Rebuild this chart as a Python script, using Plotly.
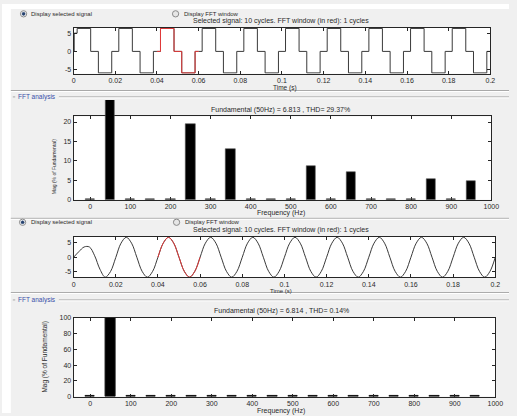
import plotly.graph_objects as go

W, H = 517, 416

# ---------------- data ----------------
time_ticks = [0, 0.02, 0.04, 0.06, 0.08, 0.1, 0.12, 0.14, 0.16, 0.18, 0.2]
time_tick_labels = ["0", "0.02", "0.04", "0.06", "0.08", "0.1", "0.12", "0.14", "0.16", "0.18", "0.2"]
freq_ticks = [0, 100, 200, 300, 400, 500, 600, 700, 800, 900, 1000]
freq_tick_labels = ["0", "100", "200", "300", "400", "500", "600", "700", "800", "900", "1000"]
sig_ticks = [-5, 0, 5]
sig_tick_labels = ["-5", "0", "5"]
mag1_ticks = [0, 5, 10, 15, 20]
mag1_tick_labels = ["0", "5", "10", "15", "20"]
mag2_ticks = [0, 20, 40, 60, 80, 100]
mag2_tick_labels = ["0", "20", "40", "60", "80", "100"]

# stepped (quasi-square) signal: level-change instants and levels
sq_time = [0.0, 0.0003, 0.0017, 0.0082, 0.0119, 0.0183,
           0.0217, 0.0282, 0.0319, 0.0383, 0.04,
           0.0417, 0.0482, 0.0519, 0.0583, 0.06,
           0.0617, 0.0682, 0.0719, 0.0783,
           0.0817, 0.0882, 0.0919, 0.0983,
           0.1017, 0.1082, 0.1119, 0.1183,
           0.1217, 0.1282, 0.1319, 0.1383,
           0.1417, 0.1482, 0.1519, 0.1583,
           0.1617, 0.1682, 0.1719, 0.1783,
           0.1817, 0.1882, 0.1919, 0.1983, 0.2]
sq_level = [0.0, 5.0, 6.3, 0.0, -5.9, 0.0,
            6.3, 0.0, -5.9, 0.0, 0.0,
            6.3, 0.0, -5.9, 0.0, 0.0,
            6.3, 0.0, -5.9, 0.0,
            6.3, 0.0, -5.9, 0.0,
            6.3, 0.0, -5.9, 0.0,
            6.3, 0.0, -5.9, 0.0,
            6.3, 0.0, -5.9, 0.0,
            6.3, 0.0, -5.9, 0.0,
            6.3, 0.0, -5.9, 0.0, 0.0]

# sinusoidal signal samples
sine_time = [0.0, 0.0025, 0.005, 0.0075, 0.01, 0.0125, 0.015, 0.0175,
             0.02, 0.0225, 0.025, 0.0275, 0.03, 0.0325, 0.035, 0.0375,
             0.04, 0.0425, 0.045, 0.0475, 0.05, 0.0525, 0.055, 0.0575,
             0.06, 0.0625, 0.065, 0.0675, 0.07, 0.0725, 0.075, 0.0775,
             0.08, 0.0825, 0.085, 0.0875, 0.09, 0.0925, 0.095, 0.0975,
             0.1, 0.1025, 0.105, 0.1075, 0.11, 0.1125, 0.115, 0.1175,
             0.12, 0.1225, 0.125, 0.1275, 0.13, 0.1325, 0.135, 0.1375,
             0.14, 0.1425, 0.145, 0.1475, 0.15, 0.1525, 0.155, 0.1575,
             0.16, 0.1625, 0.165, 0.1675, 0.17, 0.1725, 0.175, 0.1775,
             0.18, 0.1825, 0.185, 0.1875, 0.19, 0.1925, 0.195, 0.1975,
             0.2]
sine_value = [0.0, 1.9, 3.5, 3.5, 0.5, -4.1, -6.8, -4.9,
              -0.1, 4.8, 6.8, 4.8, 0.0, -4.8, -6.8, -4.8,
              0.0, 4.8, 6.8, 4.8, 0.0, -4.8, -6.8, -4.8,
              0.0, 4.8, 6.8, 4.8, 0.0, -4.8, -6.8, -4.8,
              0.0, 4.8, 6.8, 4.8, 0.0, -4.8, -6.8, -4.8,
              0.0, 4.8, 6.8, 4.8, 0.0, -4.8, -6.8, -4.8,
              0.0, 4.8, 6.8, 4.8, 0.0, -4.8, -6.8, -4.8,
              0.0, 4.8, 6.8, 4.8, 0.0, -4.8, -6.8, -4.8,
              0.0, 4.8, 6.8, 4.8, 0.0, -4.8, -6.8, -4.8,
              0.0, 4.8, 6.8, 4.8, 0.0, -4.8, -6.8, -4.8,
              0.0]

fft_window = [0.04, 0.06]

harm_freq = [0, 50, 100, 150, 200, 250, 300, 350, 400, 450,
             500, 550, 600, 650, 700, 750, 800, 850, 900, 950]
harm_mag_square = [0.1, 100, 0.1, 0.05, 0.1, 19.5, 0.1, 13.1, 0.05, 0.05,
                   0.05, 8.5, 0.05, 7.0, 0.05, 0.05, 0.05, 5.3, 0.05, 4.7]
harm_mag_sine = [0.6, 100, 0.6, 0.6, 0.6, 0.6, 0.6, 0.6, 0.6, 0.6,
                 0.6, 0.6, 0.6, 0.6, 0.6, 0.6, 0.6, 0.6, 0.6, 0.6]

title_sig = "Selected signal: 10 cycles. FFT window (in red): 1 cycles"
title_fft1 = "Fundamental (50Hz) = 6.813 , THD= 29.37%"
title_fft2 = "Fundamental (50Hz) = 6.814 , THD= 0.14%"

# ---------------- helpers ----------------
def px(x):
    return x / W


def py(y):
    return 1 - y / H


FONT = "Liberation Sans, Arial, sans-serif"
TXT = "#2a2a2a"
BG = "#f0f0f0"

sq_red_t = [t for t in sq_time if fft_window[0] <= t <= fft_window[1]]
sq_red_v = [v for t, v in zip(sq_time, sq_level) if fft_window[0] <= t <= fft_window[1]]
sn_red_t = [t for t in sine_time if fft_window[0] <= t <= fft_window[1]]
sn_red_v = [v for t, v in zip(sine_time, sine_value) if fft_window[0] <= t <= fft_window[1]]

fig = go.Figure()

bar_style = dict(color="black", line=dict(color="#111", width=1))
bar_style_thin = dict(color="black", line=dict(color="#555", width=0.6))

# panel 1 : stepped signal
fig.add_trace(go.Scatter(x=sq_time, y=sq_level, mode="lines", line=dict(color="#3a3a3a", width=1, shape="hv"),
                         xaxis="x", yaxis="y"))
fig.add_trace(go.Scatter(x=sq_red_t, y=sq_red_v, mode="lines", line=dict(color="#e23a3a", width=1, shape="hv"),
                         xaxis="x", yaxis="y"))
# panel 2 : FFT of stepped signal, drawn on a taller invisible subplot so the fundamental
# overflows the axes box like in the MATLAB window; the box itself is axes x2/y2
fig.add_trace(go.Scatter(x=[harm_freq[0]], y=[0], mode="markers", marker=dict(opacity=0),
                         xaxis="x2", yaxis="y2"))
fig.add_trace(go.Bar(x=harm_freq, y=harm_mag_square, width=23, marker=bar_style_thin, xaxis="x5", yaxis="y5"))
# panel 3 : sine
fig.add_trace(go.Scatter(x=sine_time, y=sine_value, mode="lines", line=dict(color="#3a3a3a", width=1, shape="spline"),
                         xaxis="x3", yaxis="y3"))
fig.add_trace(go.Scatter(x=sn_red_t, y=sn_red_v, mode="lines", line=dict(color="#e23a3a", width=1, shape="spline"),
                         xaxis="x3", yaxis="y3"))
# panel 4 : FFT of sine
fig.add_trace(go.Bar(x=harm_freq, y=harm_mag_sine, width=23, marker=bar_style, xaxis="x4", yaxis="y4"))


def axis(domain, rng, tv, tt, anchor):
    return dict(domain=domain, range=rng, tickvals=tv, ticktext=tt, anchor=anchor,
                showline=True, linecolor="#262626", linewidth=1, mirror="ticks",
                ticks="inside", ticklen=3, tickcolor="#262626", tickwidth=1,
                showgrid=False, zeroline=False, fixedrange=True,
                tickfont=dict(family=FONT, size=7, color=TXT))


P1 = dict(l=73, r=498, t=24.3, b=71)
P2 = dict(l=73, r=499, t=114.3, b=199)
P3 = dict(l=73, r=503, t=237, b=278)
P4 = dict(l=73, r=503, t=319.3, b=399.3)

layout = dict(
    width=W, height=H, margin=dict(l=0, r=0, t=0, b=0),
    paper_bgcolor=BG, plot_bgcolor="rgba(0,0,0,0)",
    showlegend=False, hovermode=False, bargap=0,
    xaxis=axis([px(P1["l"]), px(P1["r"])], [0, 0.2], time_ticks, time_tick_labels, "y"),
    yaxis=axis([py(P1["b"]), py(P1["t"])], [-6.15, 6.45], sig_ticks, sig_tick_labels, "x"),
    xaxis2=axis([px(P2["l"]), px(P2["r"])], [-41.6, 1000], freq_ticks, freq_tick_labels, "y2"),
    yaxis2=axis([py(P2["b"]), py(P2["t"])], [0, 21.45], mag1_ticks, mag1_tick_labels, "x2"),
    xaxis3=axis([px(P3["l"]), px(P3["r"])], [0, 0.2], time_ticks, time_tick_labels, "y3"),
    yaxis3=axis([py(P3["b"]), py(P3["t"])], [-6.85, 6.9], sig_ticks, sig_tick_labels, "x3"),
    xaxis4=axis([px(P4["l"]), px(P4["r"])], [-41.2, 1000], freq_ticks, freq_tick_labels, "y4"),
    yaxis4=axis([py(P4["b"]), py(P4["t"])], [0, 100], mag2_ticks, mag2_tick_labels, "x4"),
    xaxis5=dict(domain=[px(P2["l"]), px(P2["r"])], range=[-41.6, 1000], visible=False, anchor="y5", fixedrange=True),
    yaxis5=dict(domain=[py(199), py(97.7)], range=[0, 25.55], visible=False, anchor="x5", fixedrange=True),
)

shapes = []
# white borders of the screenshot
shapes.append(dict(type="rect", xref="paper", yref="paper", x0=0, x1=px(9), y0=0, y1=1,
                   fillcolor="white", line=dict(width=0), layer="below"))
shapes.append(dict(type="rect", xref="paper", yref="paper", x0=0, x1=1, y0=py(5), y1=1,
                   fillcolor="white", line=dict(width=0), layer="below"))
# white plot areas
for xa, ya in [("x", "y"), ("x2", "y2"), ("x3", "y3"), ("x4", "y4")]:
    shapes.append(dict(type="rect", xref=xa + " domain", yref=ya + " domain", x0=0, x1=1, y0=0, y1=1,
                       fillcolor="white", line=dict(width=0), layer="below"))


def hline(y, x0, x1, color):
    shapes.append(dict(type="line", xref="paper", yref="paper", x0=px(x0), x1=px(x1), y0=py(y), y1=py(y),
                       line=dict(color=color, width=1), layer="below"))


for y in [88, 218, 293.5]:
    hline(y, 9, 517, "#a8a8a8")
    hline(y + 1, 9, 517, "#ffffff")
for y in [94.5, 301]:
    hline(y, 11, 13.5, "#a8a8a8")
    hline(y, 58, 517, "#a8a8a8")
    hline(y + 1, 58, 517, "#ffffff")


def radio(cx, cy, selected):
    r = 3.2
    shapes.append(dict(type="circle", xref="paper", yref="paper", x0=px(cx - r), x1=px(cx + r),
                       y0=py(cy + r), y1=py(cy - r), fillcolor="white" if selected else "#e6e6e6",
                       line=dict(color="#8a8a8a", width=1), layer="above"))
    if selected:
        r2 = 1.6
        shapes.append(dict(type="circle", xref="paper", yref="paper", x0=px(cx - r2), x1=px(cx + r2),
                           y0=py(cy + r2), y1=py(cy - r2), fillcolor="#24406e",
                           line=dict(color="#24406e", width=0.5), layer="above"))


radio(22, 10, True)
radio(177, 10, False)
radio(21, 222, True)
radio(178, 222, False)
layout["shapes"] = shapes

ann = []


def text(s, x, y, size=7, color=TXT, xanchor="center", angle=0):
    ann.append(dict(text=s, x=px(x), y=py(y), xref="paper", yref="paper", showarrow=False,
                    xanchor=xanchor, yanchor="middle", textangle=angle,
                    font=dict(family=FONT, size=size, color=color)))


text("Display selected signal", 28, 10, size=6, xanchor="left")
text("Display FFT window", 184, 10, size=6, xanchor="left")
text(title_sig, 284.5, 17.5)
text("Time (s)", 289, 85, size=6.5)
text("FFT analysis", 14, 94.5, size=6.5, color="#3a4fa8", xanchor="left")
text(title_fft1, 283.7, 108.3)
text("Mag (% of Fundamental)", 53, 165, size=5, angle=-90)
text("Frequency (Hz)", 285, 212.8)
text("Display selected signal", 28, 222, size=6, xanchor="left")
text("Display FFT window", 185, 222, size=6, xanchor="left")
text(title_sig, 284.5, 229.5)
text("Time (s)", 284, 291.8, size=6)
text("FFT analysis", 14, 300.7, size=6.5, color="#3a4fa8", xanchor="left")
text(title_fft2, 285.3, 312.7)
text("Mag (% of Fundamental)", 43.5, 359, size=6.5, angle=-90)
text("Frequency (Hz)", 285, 413.5)
layout["annotations"] = ann

fig.update_layout(**layout)
fig.write_html("out.html")
